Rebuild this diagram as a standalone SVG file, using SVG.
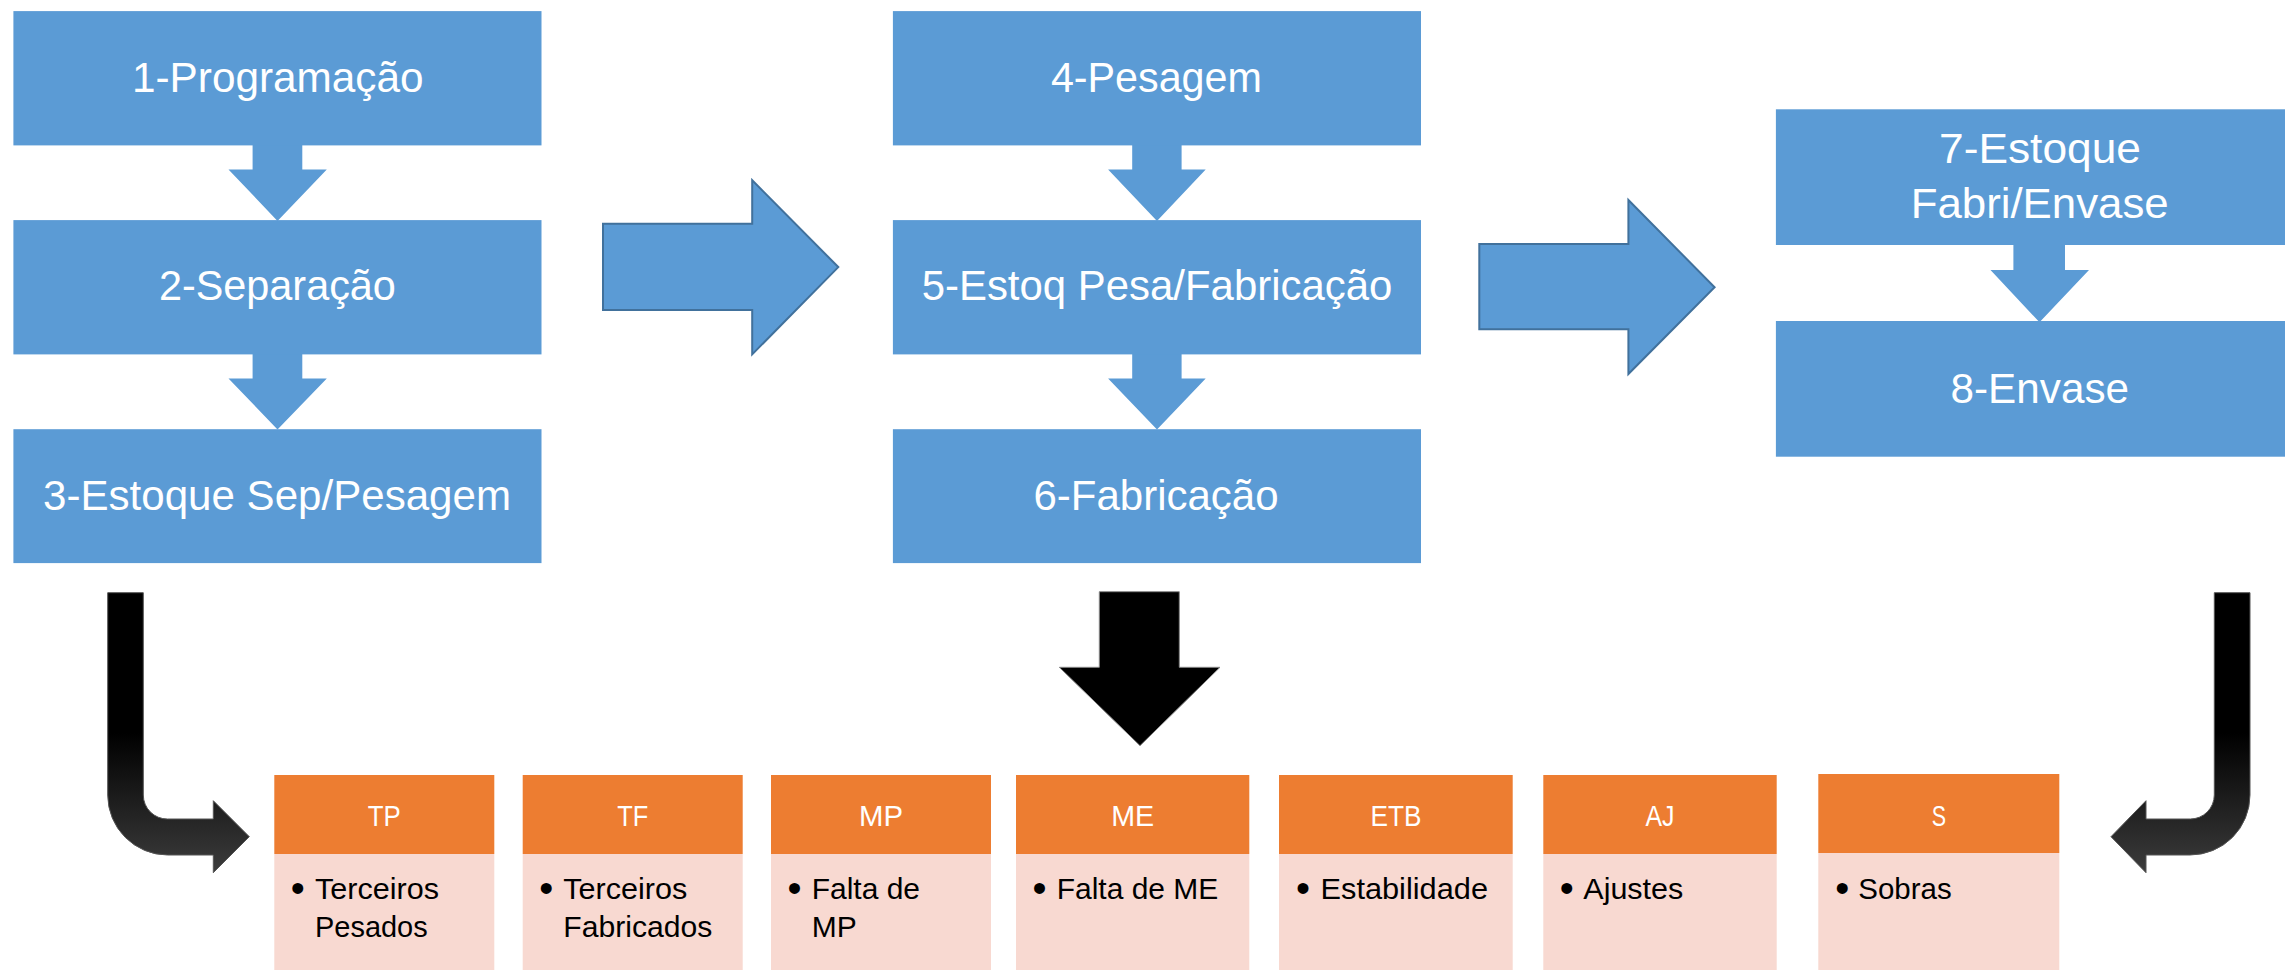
<svg xmlns="http://www.w3.org/2000/svg" width="2285" height="970" viewBox="0 0 2285 970">
<style>
.box{fill:#5B9BD5}
.lbl{font-family:"Liberation Sans",Arial,sans-serif;font-size:43px;fill:#FFFFFF;text-anchor:middle}
.big{fill:#5B9BD5;stroke:#41719C;stroke-width:2}
.hdr{fill:#ED7D31}
.bdy{fill:#F8D9D1}
.htx{font-family:"Liberation Sans",Arial,sans-serif;font-size:30px;fill:#FFFFFF;text-anchor:middle}
.btx{font-family:"Liberation Sans",Arial,sans-serif;font-size:30px;fill:#000000}
.bul{font-family:"Liberation Sans",Arial,sans-serif;font-size:40px;fill:#000000;text-anchor:middle}
.bent{fill:url(#bg);stroke:#555555;stroke-width:1}
</style>
<defs>
<linearGradient id="bg" gradientUnits="userSpaceOnUse" x1="0" y1="592" x2="0" y2="873">
<stop offset="0" stop-color="#000000"/>
<stop offset="0.5" stop-color="#000000"/>
<stop offset="1" stop-color="#3C3C3C"/>
</linearGradient>
</defs>
<rect width="2285" height="970" fill="#FFFFFF"/>

<g id="connectors">
<path class="box" d="M252.6,140 H302.3 V169.4 H326.8 L277.5,220.9 L228.5,169.4 H252.6 Z"/>
<path class="box" d="M252.6,350 H302.3 V378.5 H326.8 L277.5,429.5 L228.5,378.5 H252.6 Z"/>
<path class="box" d="M1132.2,140 H1181.6 V169.4 H1205.7 L1157,220.9 L1108.1,169.4 H1132.2 Z"/>
<path class="box" d="M1132.2,350 H1181.6 V378.5 H1205.7 L1157,429.5 L1108.1,378.5 H1132.2 Z"/>
<path class="box" d="M2013.4,240 H2065 V270 H2089 L2039.5,322.3 L1990.5,270 H2013.4 Z"/>
<path class="big" d="M603,223.8 H752.2 V180.2 L838.3,267.1 L752.2,354.4 V310 H603 Z"/>
<path class="big" d="M1479.3,244 H1628.4 V200 L1714.6,287.3 L1628.4,374 V329.3 H1479.3 Z"/>
<path fill="#000000" stroke="#888888" stroke-width="1" d="M1099.3,591.7 H1179.3 V667.3 H1220 L1140,745.7 L1059.3,667.3 H1099.3 Z"/>
<path class="bent" d="M107.7,592.7 L143.3,592.7 L143.3,795 A24,24 0 0 0 167.5,819 L213.3,819 L213.3,800.7 L249.3,836.7 L213.3,872.7 L213.3,855 L167.5,855 A60,60 0 0 1 107.7,795 Z"/>
<path class="bent" d="M2214.3,592.7 L2250,592.7 L2250,795 A60,60 0 0 1 2190,855 L2146,855 L2146,872.7 L2111,836.7 L2146,800.7 L2146,819 L2190.3,819 A24,24 0 0 0 2214.3,795 Z"/>
</g>

<g id="n1"><rect class="box" x="13.4" y="11.1" width="528.1" height="134.3"/><text class="lbl" x="277.8" y="91.7" textLength="291.6" lengthAdjust="spacingAndGlyphs">1-Programação</text></g>
<g id="n2"><rect class="box" x="13.4" y="220.1" width="528.1" height="134.3"/><text class="lbl" x="277.4" y="300.4" textLength="237" lengthAdjust="spacingAndGlyphs">2-Separação</text></g>
<g id="n3"><rect class="box" x="13.4" y="429.2" width="528.1" height="133.9"/><text class="lbl" x="277" y="509.8" textLength="468" lengthAdjust="spacingAndGlyphs">3-Estoque Sep/Pesagem</text></g>
<g id="n4"><rect class="box" x="892.9" y="11.1" width="528.1" height="134.3"/><text class="lbl" x="1156.4" y="91.7" textLength="211" lengthAdjust="spacingAndGlyphs">4-Pesagem</text></g>
<g id="n5"><rect class="box" x="892.9" y="220.1" width="528.1" height="134.3"/><text class="lbl" x="1157" y="300.4" textLength="470.7" lengthAdjust="spacingAndGlyphs">5-Estoq Pesa/Fabricação</text></g>
<g id="n6"><rect class="box" x="892.9" y="429.2" width="528.1" height="133.9"/><text class="lbl" x="1156" y="509.8" textLength="245" lengthAdjust="spacingAndGlyphs">6-Fabricação</text></g>
<g id="n7"><rect class="box" x="1775.9" y="109.3" width="528.1" height="135.7"/><text class="lbl" x="2040" y="162.7" textLength="202" lengthAdjust="spacingAndGlyphs">7-Estoque</text><text class="lbl" x="2039.7" y="218.3" textLength="258" lengthAdjust="spacingAndGlyphs">Fabri/Envase</text></g>
<g id="n8"><rect class="box" x="1775.9" y="321" width="528.1" height="135.7"/><text class="lbl" x="2039.8" y="402.7" textLength="178.5" lengthAdjust="spacingAndGlyphs">8-Envase</text></g>

<g id="cTP"><rect class="bdy" x="274.3" y="854" width="220" height="120"/><rect class="hdr" x="274.3" y="775" width="220" height="79"/><text class="htx" x="384.3" y="826" textLength="33" lengthAdjust="spacingAndGlyphs">TP</text><text class="bul" x="297.8" y="902">•</text><text class="btx" x="315" y="898.5" textLength="124" lengthAdjust="spacingAndGlyphs">Terceiros</text><text class="btx" x="315" y="936.7" textLength="112.7" lengthAdjust="spacingAndGlyphs">Pesados</text></g>
<g id="cTF"><rect class="bdy" x="522.7" y="854" width="220" height="120"/><rect class="hdr" x="522.7" y="775" width="220" height="79"/><text class="htx" x="632.7" y="826" textLength="31" lengthAdjust="spacingAndGlyphs">TF</text><text class="bul" x="546.2" y="902">•</text><text class="btx" x="563.3" y="898.5" textLength="124" lengthAdjust="spacingAndGlyphs">Terceiros</text><text class="btx" x="563.3" y="936.7" textLength="149" lengthAdjust="spacingAndGlyphs">Fabricados</text></g>
<g id="cMP"><rect class="bdy" x="771" y="854" width="220" height="120"/><rect class="hdr" x="771" y="775" width="220" height="79"/><text class="htx" x="881" y="826" textLength="44" lengthAdjust="spacingAndGlyphs">MP</text><text class="bul" x="794.5" y="902">•</text><text class="btx" x="811.7" y="898.5" textLength="108.3" lengthAdjust="spacingAndGlyphs">Falta de</text><text class="btx" x="811.7" y="936.7" textLength="45" lengthAdjust="spacingAndGlyphs">MP</text></g>
<g id="cME"><rect class="bdy" x="1016" y="854" width="233.3" height="120"/><rect class="hdr" x="1016" y="775" width="233.3" height="79"/><text class="htx" x="1132.7" y="826" textLength="43" lengthAdjust="spacingAndGlyphs">ME</text><text class="bul" x="1039.5" y="902">•</text><text class="btx" x="1056.7" y="898.5" textLength="161.6" lengthAdjust="spacingAndGlyphs">Falta de ME</text></g>
<g id="cETB"><rect class="bdy" x="1279" y="854" width="233.7" height="120"/><rect class="hdr" x="1279" y="775" width="233.7" height="79"/><text class="htx" x="1395.9" y="826" textLength="51" lengthAdjust="spacingAndGlyphs">ETB</text><text class="bul" x="1303" y="902">•</text><text class="btx" x="1320.5" y="898.5" textLength="167.5" lengthAdjust="spacingAndGlyphs">Estabilidade</text></g>
<g id="cAJ"><rect class="bdy" x="1543.3" y="854" width="233.4" height="120"/><rect class="hdr" x="1543.3" y="775" width="233.4" height="79"/><text class="htx" x="1660" y="826" textLength="29" lengthAdjust="spacingAndGlyphs">AJ</text><text class="bul" x="1566.8" y="902">•</text><text class="btx" x="1583.3" y="898.5" textLength="100" lengthAdjust="spacingAndGlyphs">Ajustes</text></g>
<g id="cS"><rect class="bdy" x="1818.3" y="853" width="241" height="121"/><rect class="hdr" x="1818.3" y="774" width="241" height="79"/><text class="htx" x="1938.8" y="826" textLength="14.3" lengthAdjust="spacingAndGlyphs">S</text><text class="bul" x="1842.3" y="902">•</text><text class="btx" x="1858.3" y="898.5" textLength="93.4" lengthAdjust="spacingAndGlyphs">Sobras</text></g>
</svg>
